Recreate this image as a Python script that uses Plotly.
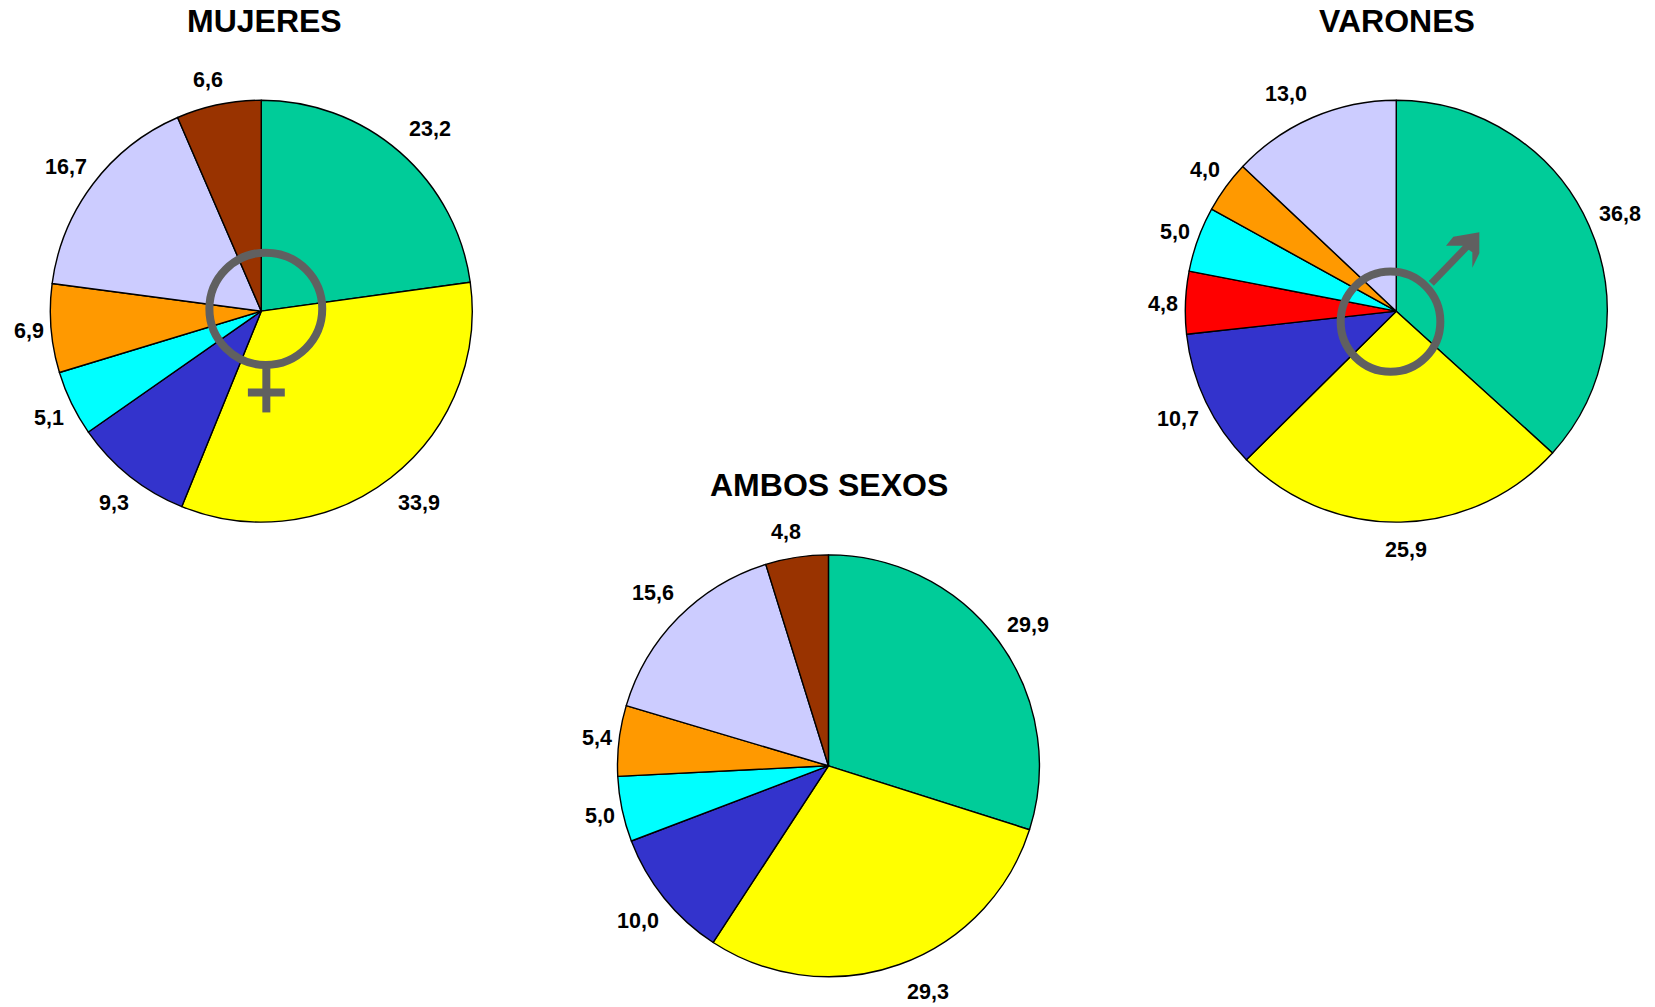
import math
import plotly.graph_objects as go

W, H = 1655, 1007
S = 1655 / 1569  # displayed-to-page scale used for the layout estimates

GREEN, YELLOW, BLUE, RED, CYAN, ORANGE, LILAC, BROWN = (
    "#00CC99", "#FFFF00", "#3333CC", "#FF0000", "#00FFFF", "#FF9900", "#CCCCFF", "#993300")
GREY = "#606060"

mujeres_values = [23.2, 33.9, 9.3, 5.1, 6.9, 16.7, 6.6]
mujeres_colors = [GREEN, YELLOW, BLUE, CYAN, ORANGE, LILAC, BROWN]
varones_values = [36.8, 25.9, 10.7, 4.8, 5.0, 4.0, 13.0]
varones_colors = [GREEN, YELLOW, BLUE, RED, CYAN, ORANGE, LILAC]
ambos_values = [29.9, 29.3, 10.0, 5.0, 5.4, 15.6, 4.8]
ambos_colors = [GREEN, YELLOW, BLUE, CYAN, ORANGE, LILAC, BROWN]

# label distance from the pie centre, in radii, and angular nudge in degrees
mujeres_lab = [(1.178, 1.7), (1.179, -1.6), (1.148, -1), (1.125, -0.8), (1.104, -0.3), (1.151, -0.6), (1.124, -1.4)]
varones_lab = [(1.155, 0.4), (1.131, -1), (1.154, -0.7), (1.106, -0.5), (1.115, -0.2), (1.126, 0.4), (1.156, -3.6)]
ambos_lab = [(1.158, 0.9), (1.169, -4.1), (1.166, -0.2), (1.111, -0.6), (1.103, 0), (1.17, -0.1), (1.128, -1.6)]

charts = [
    ("MUJERES", mujeres_values, mujeres_colors, mujeres_lab, 247.7, 295, 251, 20),
    ("VARONES", varones_values, varones_colors, varones_lab, 1323.7, 295, 1324, 20),
    ("AMBOS SEXOS", ambos_values, ambos_colors, ambos_lab, 785.4, 726, 786, 460),
]
RADIUS = 200


def X(x):
    return x * S / W


def Y(y):
    return 1 - y * S / H


def HX(z):
    """Mars arrowhead x, measured on a 3x crop starting at page x=1420."""
    return (1420 + z / 3) / W


def HY(z):
    """Mars arrowhead y, measured on a 3x crop starting at page y=215."""
    return 1 - (215 + z / 3) / H


fig = go.Figure()
annotations = []
for title, vals, cols, lab, cx, cy, tx, ty in charts:
    fig.add_trace(go.Pie(
        values=vals,
        marker=dict(colors=cols, line=dict(color="black", width=1.4)),
        sort=False,
        direction="clockwise",
        rotation=0,
        textinfo="none",
        hoverinfo="skip",
        showlegend=False,
        domain=dict(x=[X(cx - RADIUS), X(cx + RADIUS)], y=[Y(cy + RADIUS), Y(cy - RADIUS)]),
    ))
    annotations.append(dict(
        x=X(tx), y=Y(ty), xref="paper", yref="paper", text=f"<b>{title}</b>", showarrow=False,
        xanchor="center", yanchor="middle", font=dict(family="Liberation Sans", size=32, color="black"),
    ))
    total = sum(vals)
    run = 0.0
    for v, (rad, nudge) in zip(vals, lab):
        mid = (run + v / 2) / total * 2 * math.pi + math.radians(nudge)
        run += v
        annotations.append(dict(
            x=X(cx + rad * RADIUS * math.sin(mid)), y=Y(cy - rad * RADIUS * math.cos(mid)),
            xref="paper", yref="paper", text=f"<b>{v:.1f}</b>".replace(".", ","), showarrow=False,
            xanchor="center", yanchor="middle", font=dict(family="Liberation Sans", size=21.5, color="black"),
        ))

ring = dict(color=GREY, width=8)
bar = dict(color=GREY, width=8)
head = [(178, 52), (100, 65), (78, 92), (128, 92), (157, 112), (157, 158), (178, 115)]
head_path = "M " + " L ".join(f"{HX(a)} {HY(b)}" for a, b in head) + " Z"
shapes = [
    # Venus symbol
    dict(type="circle", xref="paper", yref="paper", x0=X(198.5), x1=X(305.5), y0=Y(239.5), y1=Y(346), line=ring),
    dict(type="line", xref="paper", yref="paper", x0=X(252.5), x1=X(252.5), y0=Y(349), y1=Y(391), line=bar),
    dict(type="line", xref="paper", yref="paper", x0=X(235), x1=X(270), y0=Y(372), y1=Y(372), line=bar),
    # Mars symbol
    dict(type="circle", xref="paper", yref="paper", x0=X(1271), x1=X(1365.5), y0=Y(257.5), y1=Y(352.5), line=ring),
    dict(type="line", xref="paper", yref="paper", x0=HX(34), x1=HX(150), y0=HY(205), y1=HY(85), line=dict(color=GREY, width=7)),
    dict(type="path", xref="paper", yref="paper", fillcolor=GREY, line=dict(color=GREY, width=0), path=head_path),
]

fig.update_layout(
    width=W, height=H, autosize=False,
    margin=dict(l=0, r=0, t=0, b=0),
    paper_bgcolor="white", plot_bgcolor="white",
    annotations=annotations, shapes=shapes,
    font=dict(family="Liberation Sans"),
)
fig.write_html("out.html", post_script="document.body.style.margin='0';", config=dict(displayModeBar=False))
